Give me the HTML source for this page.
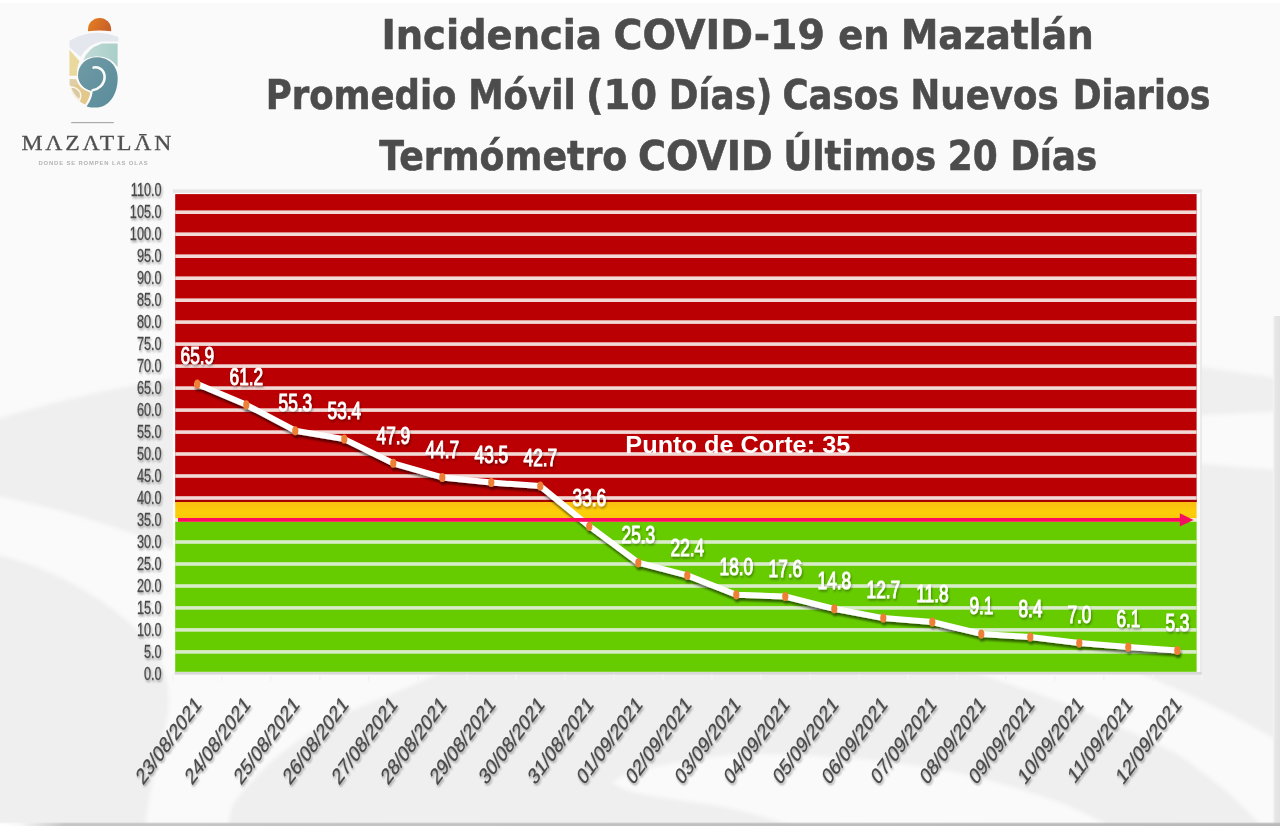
<!DOCTYPE html>
<html lang="es"><head><meta charset="utf-8"><title>Incidencia COVID-19 en Mazatlán</title>
<style>html,body{margin:0;padding:0;background:#fafafa;}body{width:1280px;height:826px;overflow:hidden;position:relative;font-family:"Liberation Sans",sans-serif;}svg{position:absolute;left:0;top:0;display:block;}
.t{font-family:"DejaVu Sans","Liberation Sans",sans-serif;font-weight:bold;font-size:41px;fill:#4c4c4c;stroke:#4c4c4c;stroke-width:0.6px;}
.yl{font-family:"Liberation Sans",sans-serif;font-size:18.2px;fill:#484848;stroke:#484848;stroke-width:0.3px;}
.dl{font-family:"Liberation Sans",sans-serif;font-size:24px;font-weight:normal;fill:#ffffff;stroke:#ffffff;stroke-width:1.0px;}
.xl{font-family:"Liberation Sans",sans-serif;font-size:22.7px;fill:#484848;stroke:#484848;stroke-width:0.3px;}
.pc{font-family:"Liberation Sans",sans-serif;font-size:24.5px;font-weight:bold;fill:#ffffff;}
</style></head><body>
<svg width="1280" height="826" viewBox="0 0 1280 826">
<defs>
<linearGradient id="yg" x1="0" y1="0" x2="0" y2="1"><stop offset="0" stop-color="#fbbd12"/><stop offset="0.6" stop-color="#fbcf08"/><stop offset="1" stop-color="#fbc80c"/></linearGradient>
<filter id="sh" x="-20%" y="-20%" width="140%" height="160%"><feGaussianBlur in="SourceAlpha" stdDeviation="1.3"/><feOffset dx="1.2" dy="2.6"/><feComponentTransfer><feFuncA type="linear" slope="0.55"/></feComponentTransfer><feMerge><feMergeNode/><feMergeNode in="SourceGraphic"/></feMerge></filter>
<filter id="sh2" x="-20%" y="-20%" width="140%" height="160%"><feGaussianBlur in="SourceAlpha" stdDeviation="1"/><feOffset dx="1" dy="1.5"/><feComponentTransfer><feFuncA type="linear" slope="0.35"/></feComponentTransfer><feMerge><feMergeNode/><feMergeNode in="SourceGraphic"/></feMerge></filter>
</defs>
<rect x="0" y="0" width="1280" height="826" fill="#fafafa"/>
<defs><filter id="soft" x="-5%" y="-5%" width="110%" height="110%"><feGaussianBlur stdDeviation="2.2"/></filter>
<linearGradient id="botbar" x1="0" y1="0" x2="1" y2="0"><stop offset="0" stop-color="#ffffff"/><stop offset="0.015" stop-color="#f8f8f8"/><stop offset="0.05" stop-color="#c6c6c6"/><stop offset="1" stop-color="#b9b9b9"/></linearGradient>
<linearGradient id="rstrip" x1="0" y1="0" x2="1" y2="0"><stop offset="0" stop-color="#f6f6f6"/><stop offset="0.35" stop-color="#e6e6e6"/><stop offset="1" stop-color="#e2e2e2"/></linearGradient></defs>
<g id="bgwaves">
<rect x="0" y="0" width="1280" height="3" fill="#ffffff"/>
<g filter="url(#soft)">
<path d="M-10,421 C60,400 120,386 178,378 L1196,366 L1290,380 L1290,840 L-10,840 Z" fill="#efefef"/>
<path d="M-10,495 C60,508 120,528 175,549 L470,660 L380,699 C314,723 267,758 232,805 L225,840 L145,840 C146,800 158,760 168,715 C172,690 165,665 150,645 C138,628 110,603 64,579 C40,567 20,560 -10,553 Z" fill="#fafafa"/>
<path d="M1190,416 L1290,411 L1290,471 L1190,463 Z" fill="#fafafa"/>
<path d="M940,660 C1000,682 1040,693 1066,704 C1110,722 1150,740 1179,755 C1215,780 1245,805 1264,830 L1290,830 L1290,748 C1230,712 1180,690 1120,665 Z" fill="#fafafa"/>
<path d="M613,783 C620,772 680,760 729,755 C790,752 880,758 954,772 C1000,782 1040,795 1066,805 C1085,813 1100,820 1116,832 L810,832 C770,818 750,813 729,808 C690,800 630,797 613,783 Z" fill="#fafafa"/>
</g>
<rect x="1272.8" y="316" width="7.2" height="510" fill="url(#rstrip)"/>
<rect x="0" y="823.2" width="1280" height="2.8" fill="url(#botbar)"/>
<rect x="0" y="822.2" width="1280" height="1" fill="url(#botbar)" opacity="0.35"/>
</g>
<g id="plot">
<rect x="172.9" y="192.9" width="1027.4" height="480" fill="#fdfdfd"/>
<rect x="172.9" y="189.4" width="1028.9" height="3.5" fill="#e7e7e7"/>
<rect x="1200.3" y="189.4" width="1.5" height="485" fill="#e6e6e6"/>
<rect x="175.2" y="194.1" width="1021.4" height="307.9" fill="#bb0003"/>
<rect x="175.2" y="499.7" width="1021.4" height="2.4" fill="#a50000"/>
<rect x="175.2" y="502" width="1021.4" height="16.5" fill="url(#yg)"/>
<rect x="175.2" y="518" width="1021.4" height="4" fill="#f5ead0"/>
<rect x="175.2" y="521.8" width="1021.4" height="150.0" fill="#66cc00"/>
<rect x="174.5" y="672" width="1027.3" height="2.6" fill="#d8d8d8"/>
<rect x="175.2" y="650.1" width="1021.4" height="3.6" fill="#d9ecc9"/>
<rect x="175.2" y="628.1" width="1021.4" height="3.6" fill="#d9ecc9"/>
<rect x="175.2" y="606.1" width="1021.4" height="3.6" fill="#d9ecc9"/>
<rect x="175.2" y="584.2" width="1021.4" height="3.6" fill="#d9ecc9"/>
<rect x="175.2" y="562.2" width="1021.4" height="3.6" fill="#d9ecc9"/>
<rect x="175.2" y="540.2" width="1021.4" height="3.6" fill="#d9ecc9"/>
<rect x="175.2" y="496.2" width="1021.4" height="3.6" fill="#f3d9d6"/>
<rect x="175.2" y="474.2" width="1021.4" height="3.6" fill="#f3d9d6"/>
<rect x="175.2" y="452.2" width="1021.4" height="3.6" fill="#f3d9d6"/>
<rect x="175.2" y="430.3" width="1021.4" height="3.6" fill="#f3d9d6"/>
<rect x="175.2" y="408.3" width="1021.4" height="3.6" fill="#f3d9d6"/>
<rect x="175.2" y="386.3" width="1021.4" height="3.6" fill="#f3d9d6"/>
<rect x="175.2" y="364.3" width="1021.4" height="3.6" fill="#f3d9d6"/>
<rect x="175.2" y="342.3" width="1021.4" height="3.6" fill="#f3d9d6"/>
<rect x="175.2" y="320.3" width="1021.4" height="3.6" fill="#f3d9d6"/>
<rect x="175.2" y="298.4" width="1021.4" height="3.6" fill="#f3d9d6"/>
<rect x="175.2" y="276.4" width="1021.4" height="3.6" fill="#f3d9d6"/>
<rect x="175.2" y="254.4" width="1021.4" height="3.6" fill="#f3d9d6"/>
<rect x="175.2" y="232.4" width="1021.4" height="3.6" fill="#f3d9d6"/>
<rect x="175.2" y="210.4" width="1021.4" height="3.6" fill="#f3d9d6"/>
</g>
<g class="yl" filter="url(#sh2)">
<text transform="translate(161.7,679.6) scale(0.70,1)" text-anchor="end">0.0</text>
<text transform="translate(161.7,657.6) scale(0.70,1)" text-anchor="end">5.0</text>
<text transform="translate(161.7,635.6) scale(0.70,1)" text-anchor="end">10.0</text>
<text transform="translate(161.7,613.6) scale(0.70,1)" text-anchor="end">15.0</text>
<text transform="translate(161.7,591.7) scale(0.70,1)" text-anchor="end">20.0</text>
<text transform="translate(161.7,569.7) scale(0.70,1)" text-anchor="end">25.0</text>
<text transform="translate(161.7,547.7) scale(0.70,1)" text-anchor="end">30.0</text>
<text transform="translate(161.7,525.7) scale(0.70,1)" text-anchor="end">35.0</text>
<text transform="translate(161.7,503.7) scale(0.70,1)" text-anchor="end">40.0</text>
<text transform="translate(161.7,481.7) scale(0.70,1)" text-anchor="end">45.0</text>
<text transform="translate(161.7,459.7) scale(0.70,1)" text-anchor="end">50.0</text>
<text transform="translate(161.7,437.8) scale(0.70,1)" text-anchor="end">55.0</text>
<text transform="translate(161.7,415.8) scale(0.70,1)" text-anchor="end">60.0</text>
<text transform="translate(161.7,393.8) scale(0.70,1)" text-anchor="end">65.0</text>
<text transform="translate(161.7,371.8) scale(0.70,1)" text-anchor="end">70.0</text>
<text transform="translate(161.7,349.8) scale(0.70,1)" text-anchor="end">75.0</text>
<text transform="translate(161.7,327.8) scale(0.70,1)" text-anchor="end">80.0</text>
<text transform="translate(161.7,305.9) scale(0.70,1)" text-anchor="end">85.0</text>
<text transform="translate(161.7,283.9) scale(0.70,1)" text-anchor="end">90.0</text>
<text transform="translate(161.7,261.9) scale(0.70,1)" text-anchor="end">95.0</text>
<text transform="translate(161.7,239.9) scale(0.70,1)" text-anchor="end">100.0</text>
<text transform="translate(161.7,217.9) scale(0.70,1)" text-anchor="end">105.0</text>
<text transform="translate(161.7,195.9) scale(0.70,1)" text-anchor="end">110.0</text>
</g>
<g filter="url(#sh)"><polyline points="197.3,384.1 246.3,404.8 295.3,430.7 344.3,439.1 393.3,463.3 442.3,477.4 491.3,482.6 540.3,486.1 589.3,526.2 638.3,562.7 687.3,575.4 736.3,594.8 785.3,596.5 834.3,608.8 883.3,618.1 932.3,622.0 981.3,633.9 1030.3,637.0 1079.3,643.1 1128.3,647.1 1177.3,650.6" fill="none" stroke="#ffffff" stroke-width="6" stroke-linejoin="round" stroke-linecap="round"/>
<ellipse cx="197.3" cy="384.1" rx="3.1" ry="4.5" fill="#ee8034"/>
<ellipse cx="246.3" cy="404.8" rx="3.1" ry="4.5" fill="#ee8034"/>
<ellipse cx="295.3" cy="430.7" rx="3.1" ry="4.5" fill="#ee8034"/>
<ellipse cx="344.3" cy="439.1" rx="3.1" ry="4.5" fill="#ee8034"/>
<ellipse cx="393.3" cy="463.3" rx="3.1" ry="4.5" fill="#ee8034"/>
<ellipse cx="442.3" cy="477.4" rx="3.1" ry="4.5" fill="#ee8034"/>
<ellipse cx="491.3" cy="482.6" rx="3.1" ry="4.5" fill="#ee8034"/>
<ellipse cx="540.3" cy="486.1" rx="3.1" ry="4.5" fill="#ee8034"/>
<ellipse cx="589.3" cy="526.2" rx="3.1" ry="4.5" fill="#ee8034"/>
<ellipse cx="638.3" cy="562.7" rx="3.1" ry="4.5" fill="#ee8034"/>
<ellipse cx="687.3" cy="575.4" rx="3.1" ry="4.5" fill="#ee8034"/>
<ellipse cx="736.3" cy="594.8" rx="3.1" ry="4.5" fill="#ee8034"/>
<ellipse cx="785.3" cy="596.5" rx="3.1" ry="4.5" fill="#ee8034"/>
<ellipse cx="834.3" cy="608.8" rx="3.1" ry="4.5" fill="#ee8034"/>
<ellipse cx="883.3" cy="618.1" rx="3.1" ry="4.5" fill="#ee8034"/>
<ellipse cx="932.3" cy="622.0" rx="3.1" ry="4.5" fill="#ee8034"/>
<ellipse cx="981.3" cy="633.9" rx="3.1" ry="4.5" fill="#ee8034"/>
<ellipse cx="1030.3" cy="637.0" rx="3.1" ry="4.5" fill="#ee8034"/>
<ellipse cx="1079.3" cy="643.1" rx="3.1" ry="4.5" fill="#ee8034"/>
<ellipse cx="1128.3" cy="647.1" rx="3.1" ry="4.5" fill="#ee8034"/>
<ellipse cx="1177.3" cy="650.6" rx="3.1" ry="4.5" fill="#ee8034"/>
</g>
<rect x="178" y="518" width="1004" height="3.8" fill="#ff0a5c"/>
<polygon points="1179.8,513.2 1193.6,519.9 1179.8,526.6" fill="#f5105f"/>
<g class="dl" filter="url(#sh2)">
<text transform="translate(197.4,364.3) scale(0.72,1)" text-anchor="middle">65.9</text>
<text transform="translate(246.4,385.0) scale(0.72,1)" text-anchor="middle">61.2</text>
<text transform="translate(295.4,410.9) scale(0.72,1)" text-anchor="middle">55.3</text>
<text transform="translate(344.4,419.3) scale(0.72,1)" text-anchor="middle">53.4</text>
<text transform="translate(393.4,443.5) scale(0.72,1)" text-anchor="middle">47.9</text>
<text transform="translate(442.4,457.6) scale(0.72,1)" text-anchor="middle">44.7</text>
<text transform="translate(491.4,462.8) scale(0.72,1)" text-anchor="middle">43.5</text>
<text transform="translate(540.4,466.3) scale(0.72,1)" text-anchor="middle">42.7</text>
<text transform="translate(589.4,506.4) scale(0.72,1)" text-anchor="middle">33.6</text>
<text transform="translate(638.4,542.9) scale(0.72,1)" text-anchor="middle">25.3</text>
<text transform="translate(687.4,555.6) scale(0.72,1)" text-anchor="middle">22.4</text>
<text transform="translate(736.4,575.0) scale(0.72,1)" text-anchor="middle">18.0</text>
<text transform="translate(785.4,576.7) scale(0.72,1)" text-anchor="middle">17.6</text>
<text transform="translate(834.4,589.0) scale(0.72,1)" text-anchor="middle">14.8</text>
<text transform="translate(883.4,598.3) scale(0.72,1)" text-anchor="middle">12.7</text>
<text transform="translate(932.4,602.2) scale(0.72,1)" text-anchor="middle">11.8</text>
<text transform="translate(981.4,614.1) scale(0.72,1)" text-anchor="middle">9.1</text>
<text transform="translate(1030.4,617.2) scale(0.72,1)" text-anchor="middle">8.4</text>
<text transform="translate(1079.4,623.3) scale(0.72,1)" text-anchor="middle">7.0</text>
<text transform="translate(1128.4,627.3) scale(0.72,1)" text-anchor="middle">6.1</text>
<text transform="translate(1177.4,630.8) scale(0.72,1)" text-anchor="middle">5.3</text>
</g>
<text class="pc" x="625.3" y="452.5" textLength="225" lengthAdjust="spacingAndGlyphs">Punto de Corte: 35</text>
<g class="xl" filter="url(#sh2)">
<text transform="translate(202.3,705.5) scale(0.74,1) rotate(-45)" text-anchor="end">23/08/2021</text>
<text transform="translate(251.3,705.5) scale(0.74,1) rotate(-45)" text-anchor="end">24/08/2021</text>
<text transform="translate(300.3,705.5) scale(0.74,1) rotate(-45)" text-anchor="end">25/08/2021</text>
<text transform="translate(349.3,705.5) scale(0.74,1) rotate(-45)" text-anchor="end">26/08/2021</text>
<text transform="translate(398.3,705.5) scale(0.74,1) rotate(-45)" text-anchor="end">27/08/2021</text>
<text transform="translate(447.3,705.5) scale(0.74,1) rotate(-45)" text-anchor="end">28/08/2021</text>
<text transform="translate(496.3,705.5) scale(0.74,1) rotate(-45)" text-anchor="end">29/08/2021</text>
<text transform="translate(545.3,705.5) scale(0.74,1) rotate(-45)" text-anchor="end">30/08/2021</text>
<text transform="translate(594.3,705.5) scale(0.74,1) rotate(-45)" text-anchor="end">31/08/2021</text>
<text transform="translate(643.3,705.5) scale(0.74,1) rotate(-45)" text-anchor="end">01/09/2021</text>
<text transform="translate(692.3,705.5) scale(0.74,1) rotate(-45)" text-anchor="end">02/09/2021</text>
<text transform="translate(741.3,705.5) scale(0.74,1) rotate(-45)" text-anchor="end">03/09/2021</text>
<text transform="translate(790.3,705.5) scale(0.74,1) rotate(-45)" text-anchor="end">04/09/2021</text>
<text transform="translate(839.3,705.5) scale(0.74,1) rotate(-45)" text-anchor="end">05/09/2021</text>
<text transform="translate(888.3,705.5) scale(0.74,1) rotate(-45)" text-anchor="end">06/09/2021</text>
<text transform="translate(937.3,705.5) scale(0.74,1) rotate(-45)" text-anchor="end">07/09/2021</text>
<text transform="translate(986.3,705.5) scale(0.74,1) rotate(-45)" text-anchor="end">08/09/2021</text>
<text transform="translate(1035.3,705.5) scale(0.74,1) rotate(-45)" text-anchor="end">09/09/2021</text>
<text transform="translate(1084.3,705.5) scale(0.74,1) rotate(-45)" text-anchor="end">10/09/2021</text>
<text transform="translate(1133.3,705.5) scale(0.74,1) rotate(-45)" text-anchor="end">11/09/2021</text>
<text transform="translate(1182.3,705.5) scale(0.74,1) rotate(-45)" text-anchor="end">12/09/2021</text>
</g>
<rect x="172.0" y="674.6" width="1.6" height="6.5" fill="#f3f3f3"/>
<rect x="221.0" y="674.6" width="1.6" height="6.5" fill="#f3f3f3"/>
<rect x="270.0" y="674.6" width="1.6" height="6.5" fill="#f3f3f3"/>
<rect x="319.0" y="674.6" width="1.6" height="6.5" fill="#f3f3f3"/>
<rect x="368.0" y="674.6" width="1.6" height="6.5" fill="#f3f3f3"/>
<rect x="417.0" y="674.6" width="1.6" height="6.5" fill="#f3f3f3"/>
<rect x="466.0" y="674.6" width="1.6" height="6.5" fill="#f3f3f3"/>
<rect x="515.0" y="674.6" width="1.6" height="6.5" fill="#f3f3f3"/>
<rect x="564.0" y="674.6" width="1.6" height="6.5" fill="#f3f3f3"/>
<rect x="613.0" y="674.6" width="1.6" height="6.5" fill="#f3f3f3"/>
<rect x="662.0" y="674.6" width="1.6" height="6.5" fill="#f3f3f3"/>
<rect x="711.0" y="674.6" width="1.6" height="6.5" fill="#f3f3f3"/>
<rect x="760.0" y="674.6" width="1.6" height="6.5" fill="#f3f3f3"/>
<rect x="809.0" y="674.6" width="1.6" height="6.5" fill="#f3f3f3"/>
<rect x="858.0" y="674.6" width="1.6" height="6.5" fill="#f3f3f3"/>
<rect x="907.0" y="674.6" width="1.6" height="6.5" fill="#f3f3f3"/>
<rect x="956.0" y="674.6" width="1.6" height="6.5" fill="#f3f3f3"/>
<rect x="1005.0" y="674.6" width="1.6" height="6.5" fill="#f3f3f3"/>
<rect x="1054.0" y="674.6" width="1.6" height="6.5" fill="#f3f3f3"/>
<rect x="1103.0" y="674.6" width="1.6" height="6.5" fill="#f3f3f3"/>
<rect x="1152.0" y="674.6" width="1.6" height="6.5" fill="#f3f3f3"/>
<rect x="1201.0" y="674.6" width="1.6" height="6.5" fill="#f3f3f3"/>
<g class="t">
<text transform="translate(381.44,48.9) scale(0.9379,1)">Incidencia</text>
<text transform="translate(613.58,48.9) scale(0.9620,1)">COVID-19</text>
<text transform="translate(838.35,48.9) scale(0.8995,1)">en</text>
<text transform="translate(901.00,48.9) scale(0.9160,1)">Mazatlán</text>
<text transform="translate(265.65,109.4) scale(0.8654,1)">Promedio</text>
<text transform="translate(468.14,109.4) scale(0.8684,1)">Móvil</text>
<text transform="translate(585.93,109.4) scale(0.9401,1)">(10</text>
<text transform="translate(668.63,109.4) scale(0.8727,1)">Días)</text>
<text transform="translate(782.52,109.4) scale(0.8662,1)">Casos</text>
<text transform="translate(910.60,109.4) scale(0.8676,1)">Nuevos</text>
<text transform="translate(1072.66,109.4) scale(0.8477,1)">Diarios</text>
<text transform="translate(379.30,169.5) scale(0.8860,1)">Termómetro</text>
<text transform="translate(637.94,169.5) scale(0.9302,1)">COVID</text>
<text transform="translate(783.60,169.5) scale(0.8651,1)">Últimos</text>
<text transform="translate(947.77,169.5) scale(0.8757,1)">20</text>
<text transform="translate(1010.40,169.5) scale(0.8658,1)">Días</text>
</g>
<g id="logo">
<defs><linearGradient id="sun" x1="0" y1="0" x2="1" y2="0.3"><stop offset="0" stop-color="#e8801f"/><stop offset="1" stop-color="#c8622a"/></linearGradient>
<linearGradient id="teal" x1="0" y1="0" x2="1" y2="1"><stop offset="0" stop-color="#6f9aa4"/><stop offset="1" stop-color="#5a8c9b"/></linearGradient>
<linearGradient id="lteal" x1="0" y1="0" x2="1" y2="0"><stop offset="0" stop-color="#c2dad8"/><stop offset="1" stop-color="#a9cfc9"/></linearGradient></defs>
<path d="M88,31.3 L88,29.6 A11.6,11.7 0 0 1 111.2,29.6 L111.2,31.3 Q99.5,29.6 88,31.3 Z" fill="url(#sun)"/>
<path d="M69.4,40.8 Q93,26.8 118.4,37 L118.4,41.4 L101,41.4 Q87,44.8 80.6,57 L69.4,47.3 Z" fill="#e5e7ee"/>
<path d="M101,43.4 L117.6,43.4 L117.6,67 Q111,56.5 97,56.2 Q89,56.5 83.2,60.5 Q88,48 101,44 Z" fill="url(#lteal)"/>
<path d="M69.4,49.8 L79.6,61.2 Q76.3,68 77,75.8 L69.4,75.8 Z" fill="#e9d99c"/>
<path d="M97,57.2 C109,57.2 117.7,66 117.7,78 C117.7,96 108,107.6 96,107.6 C92,107.6 89,107.2 86.6,106.4 C91,100 92.5,95 92.6,91.2 C84,90 78,83 78,75.5 C78,65 86,57.2 97,57.2 Z" fill="url(#teal)"/>
<path d="M93.6,67.6 C99,66.2 104.6,70.5 104.6,77 C104.6,84.5 98.5,89.3 92.6,90.2" fill="none" stroke="#f9fbfb" stroke-width="2.6" stroke-linecap="round"/>
<path d="M69.6,78.6 L76.6,78.6 Q79,88.5 91,92 Q90.6,98.5 85.4,105.4 Q76,101 72,94 Q69.6,89 69.6,78.6 Z" fill="#e3c88c" stroke="#fafafa" stroke-width="1.5"/>
<path d="M69.6,79 Q75,79 78.5,84 Q76,85.5 71,85.5 L69.6,85.5 Z" fill="#dfcfa8"/>
<path d="M70.2,87 Q77,86.8 80.2,92.5 Q81.6,96 79.6,100.4 Q73,95.5 70.2,87 Z" fill="#dbc9a0" stroke="#faf6ee" stroke-width="1.4"/>
<rect x="71.2" y="122" width="42.6" height="1.2" fill="#a9a9a9"/>
<text transform="translate(21.4,149.5) scale(1.14,1)" style="font-family:'Liberation Serif',serif;font-size:20.8px;letter-spacing:2.45px;fill:#505050;stroke:#505050;stroke-width:0.25px;">MAZATLĀN</text>
<g fill="#fafafa"><rect x="50.7" y="143.7" width="4.6" height="1.6"/><rect x="88.1" y="143.7" width="4.3" height="1.6"/><rect x="139.7" y="143.7" width="4.6" height="1.6"/></g>
<text x="93.5" y="164.6" text-anchor="middle" style="font-family:'Liberation Sans',sans-serif;font-weight:bold;font-size:5.9px;letter-spacing:0.85px;fill:#b3b3b3;">DONDE SE ROMPEN LAS OLAS</text>
</g>
</svg>
</body></html>
